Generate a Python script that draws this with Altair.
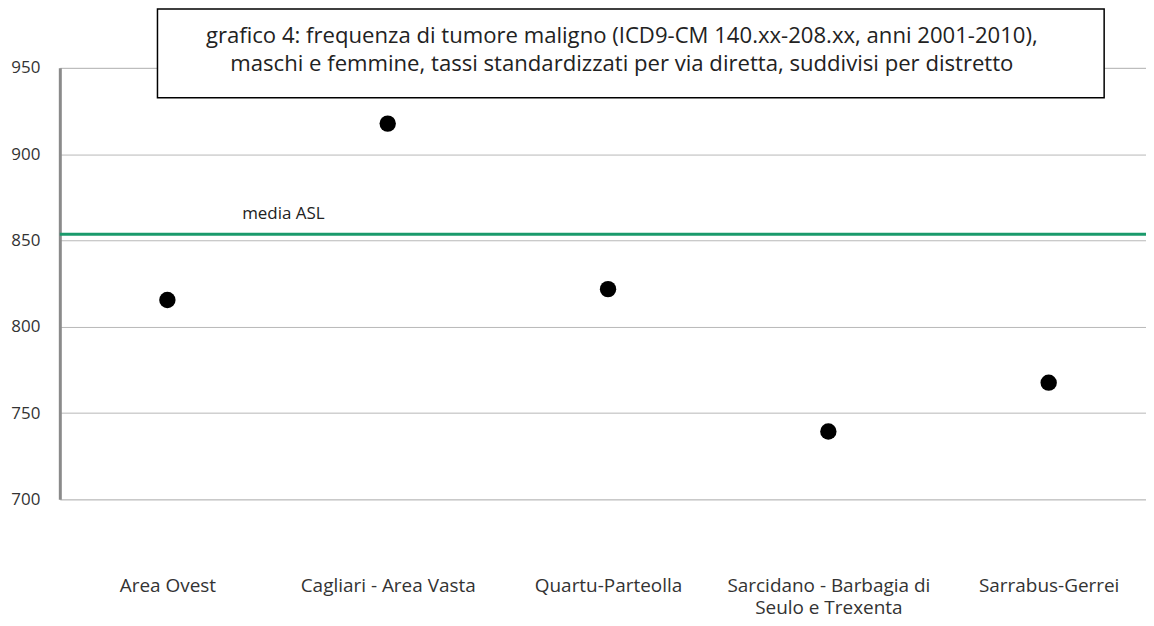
import altair as alt
import pandas as pd

districts = ["Area Ovest", "Cagliari - Area Vasta", "Quartu-Parteolla",
             "Sarcidano - Barbagia di|Seulo e Trexenta", "Sarrabus-Gerrei"]
rates = [815.5, 917.7, 821.8, 739.3, 767.6]
media_asl = 853.6
y_ticks = [700, 750, 800, 850, 900, 950]
title_line1 = "grafico 4: frequenza di tumore maligno (ICD9-CM 140.xx-208.xx, anni 2001-2010),"
title_line2 = "maschi e femmine, tassi standardizzati per via diretta, suddivisi per distretto"

df = pd.DataFrame({"distretto": districts, "tasso": rates})
FONT = "Open Sans"

yscale = alt.Scale(domain=[700, 950], nice=False, zero=False)

points = alt.Chart(df).mark_circle(size=270, opacity=1, color="black").encode(
    x=alt.X("distretto:N", sort=districts, title=None,
            scale=alt.Scale(type="point", padding=0.465, align=0.525),
            axis=alt.Axis(labelAngle=0, labelExpr="split(datum.label, '|')",
                          labelPadding=77, labelFontSize=19, labelColor="#333333",
                          labelFont=FONT, labelLineHeight=23, labelLimit=400,
                          ticks=False, domain=False, grid=False,
                          labelBaseline="top", labelOverlap=False)),
    y=alt.Y("tasso:Q", title=None, scale=yscale,
            axis=alt.Axis(values=y_ticks, labelFontSize=17, labelColor="#333333",
                          labelFont=FONT, labelPadding=20, ticks=False,
                          domainColor="#8a8a8a", domainWidth=3,
                          gridColor="#b8b8b8", gridWidth=1)),
)

media = alt.Chart(pd.DataFrame({"m": [media_asl]})).mark_rule(
    color="#1a9a6b", strokeWidth=3).encode(y=alt.Y("m:Q", scale=yscale))

media_label = alt.Chart(pd.DataFrame({"t": ["media ASL"]})).mark_text(
    font=FONT, fontSize=17, color="#222222", align="left", baseline="middle").encode(
    text="t:N", x=alt.value(183), y=alt.value(147))

box = alt.Chart(pd.DataFrame({"a": [0]})).mark_rect(
    fill="white", stroke="black", strokeWidth=1.5).encode(
    x=alt.value(98), x2=alt.value(1048), y=alt.value(-59), y2=alt.value(30))

t1 = alt.Chart(pd.DataFrame({"t": [title_line1]})).mark_text(
    font=FONT, fontSize=22.2, color="#222222", align="center", baseline="middle").encode(
    text="t:N", x=alt.value(564), y=alt.value(-32))
t2 = alt.Chart(pd.DataFrame({"t": [title_line2]})).mark_text(
    font=FONT, fontSize=22.2, color="#222222", align="center", baseline="middle").encode(
    text="t:N", x=alt.value(564), y=alt.value(-4))

chart = alt.layer(points, media, media_label, box, t1, t2).properties(
    width=1090, height=433,
    padding={"left": 52, "top": 59, "right": 0, "bottom": 124},
    autosize=alt.AutoSizeParams(type="none"),
).configure_view(stroke=None).configure(background="white")

chart.save("out.html", embed_options={"renderer": "svg", "actions": False})
